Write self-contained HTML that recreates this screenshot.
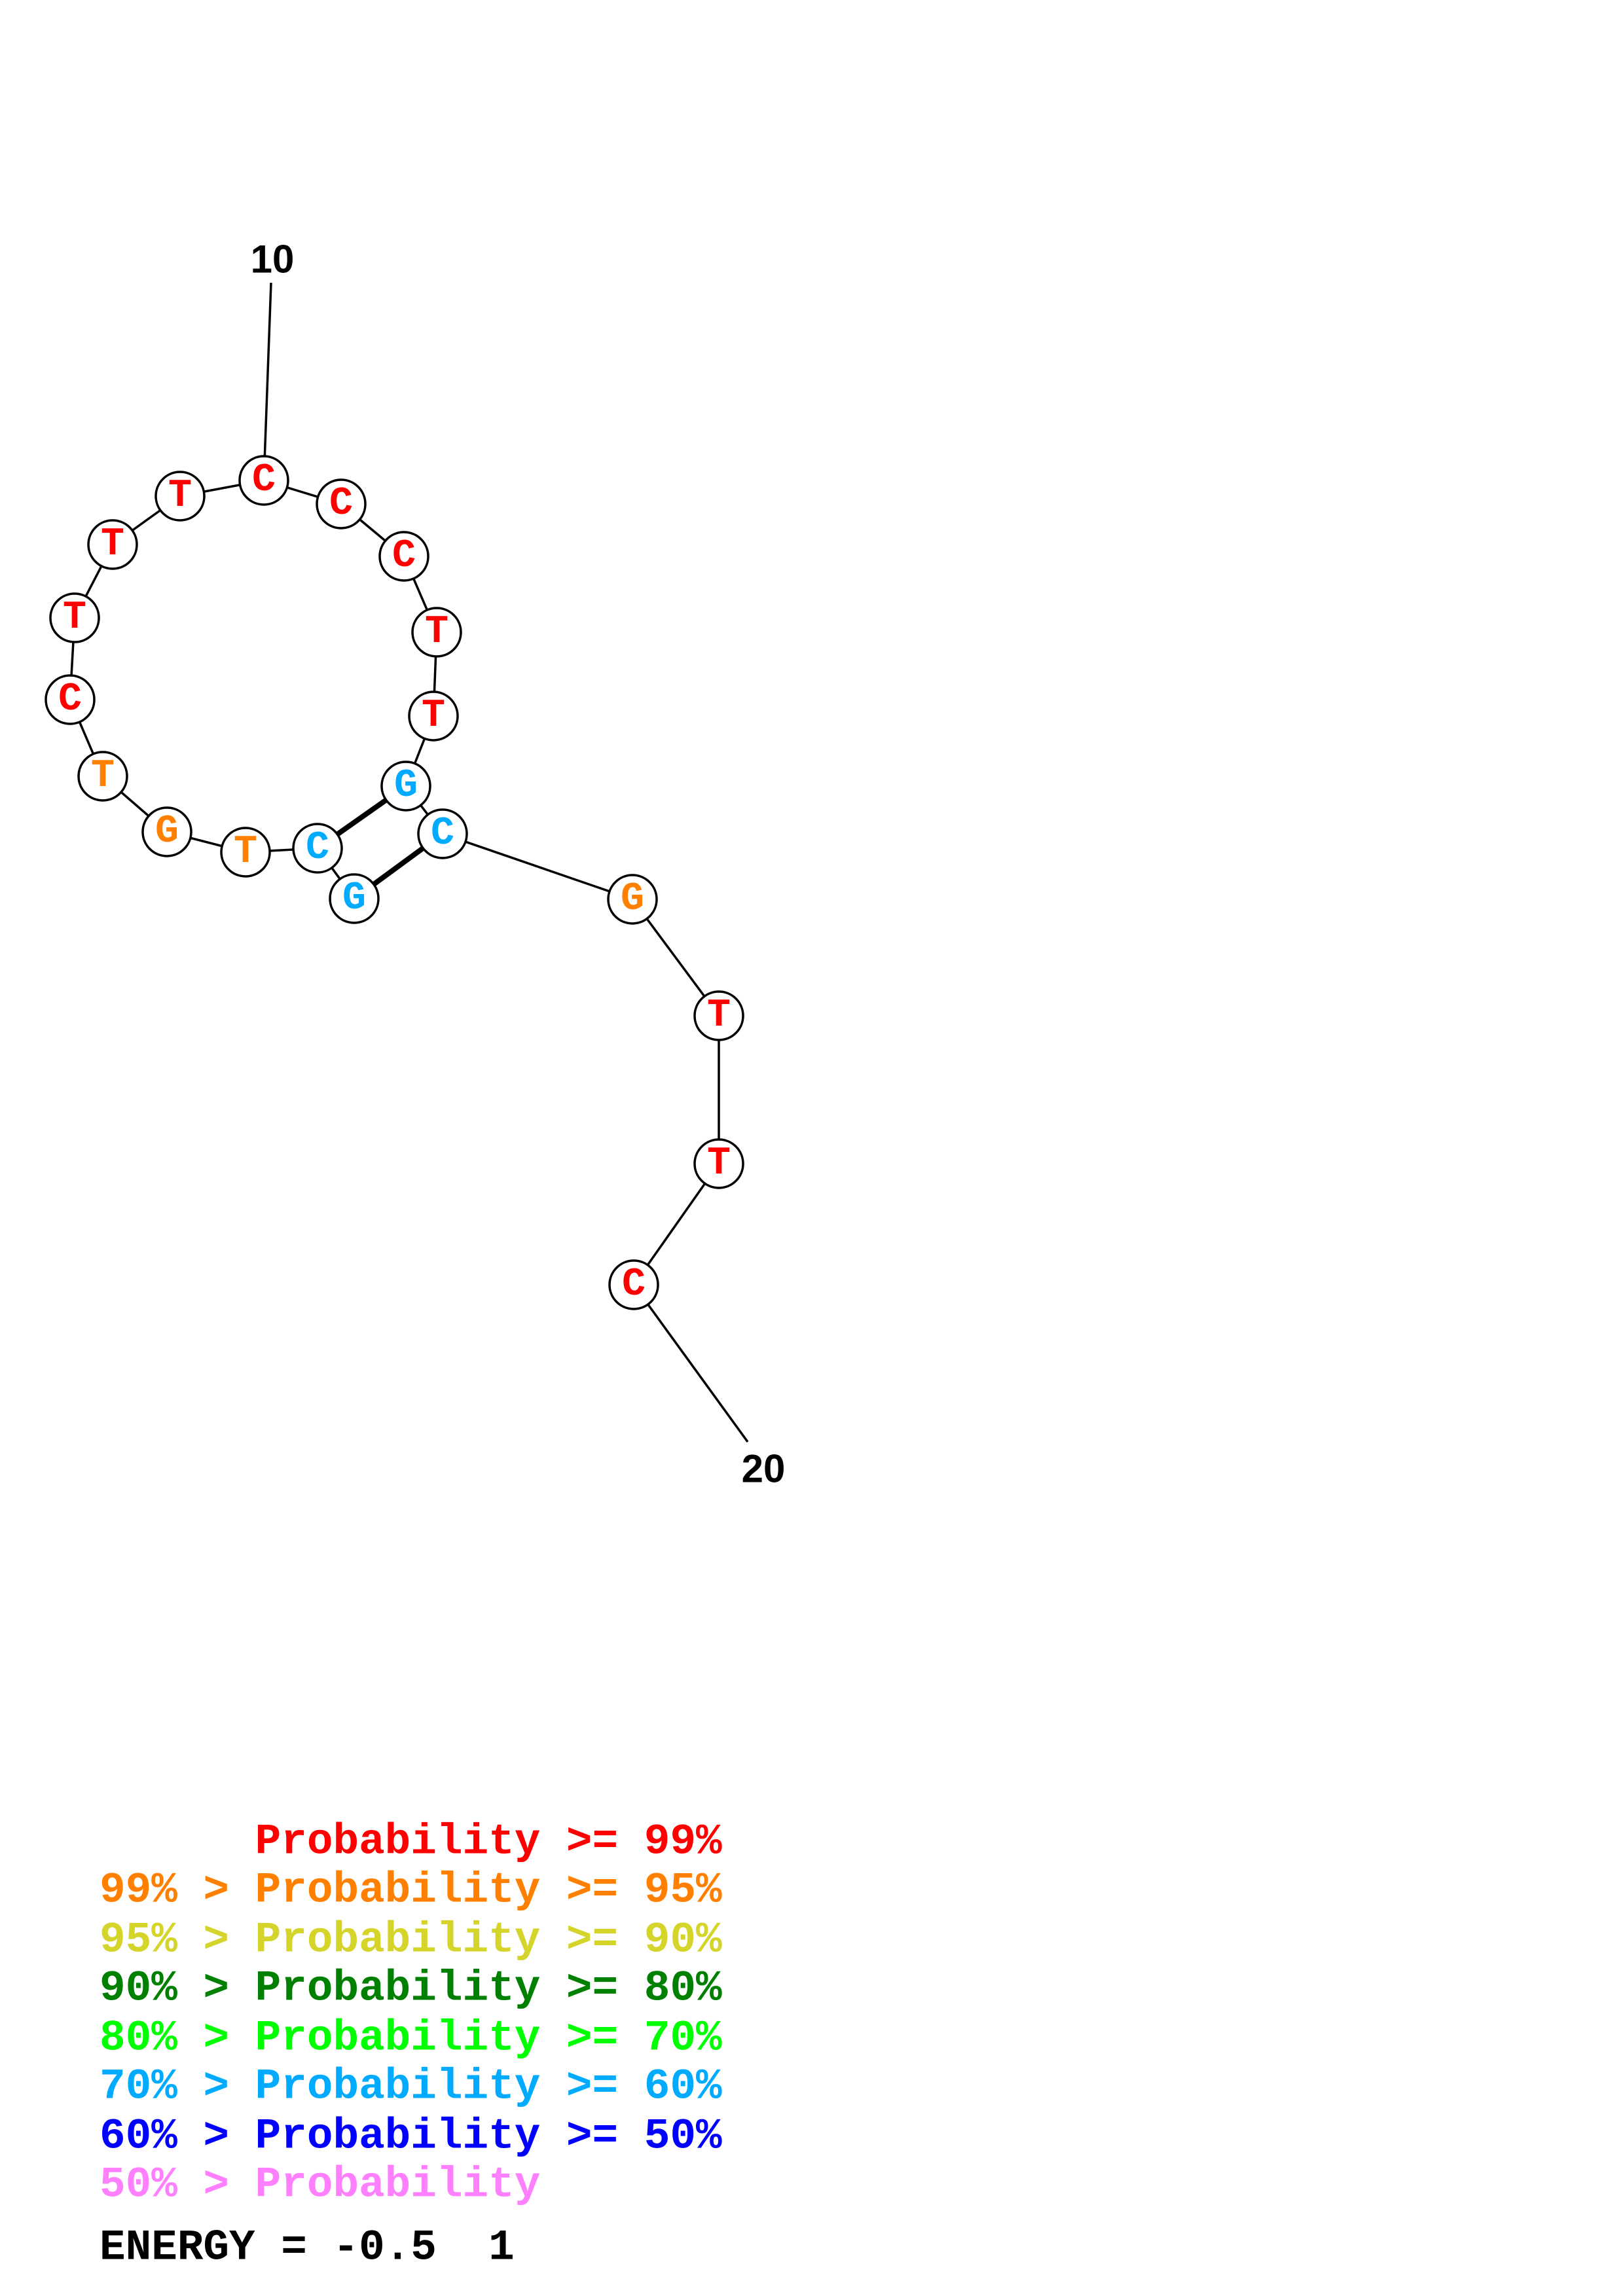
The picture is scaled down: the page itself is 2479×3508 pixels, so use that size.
<!DOCTYPE html>
<html><head><meta charset="utf-8"><style>
html,body{margin:0;padding:0;background:#fff}
svg{display:block}
.n{font-family:"Liberation Mono",monospace;font-weight:bold;font-size:60px;text-anchor:middle;dominant-baseline:central}
.lg{font-family:"Liberation Mono",monospace;font-weight:bold;font-size:66px;dominant-baseline:central}
.lb{font-family:"Liberation Sans",sans-serif;font-weight:bold;font-size:60px;text-anchor:middle;dominant-baseline:central}
</style></head><body>
<svg width="2479" height="3508" viewBox="0 0 2479 3508" xmlns="http://www.w3.org/2000/svg">
<g stroke="#000" stroke-width="3.5" fill="none">
<line x1="414" y1="432" x2="403" y2="734"/>
<polyline points="403,734 521,770 617,850 667,966 662,1094 620,1201 676,1274 966,1374 1098,1552 1098,1778 968,1963 1142,2203"/>
<polyline points="403,734 275,758 172,832 114,944 107,1069 157,1186 255,1271 375,1302 485,1296 541,1373"/>
<line x1="541" y1="1373" x2="676" y2="1274" stroke-width="8"/>
<line x1="485" y1="1296" x2="620" y2="1201" stroke-width="8"/>
</g>
<g stroke="#000" stroke-width="3.5" fill="#fff">
<circle cx="403" cy="734" r="37"/><circle cx="521" cy="770" r="37"/><circle cx="617" cy="850" r="37"/>
<circle cx="667" cy="966" r="37"/><circle cx="662" cy="1094" r="37"/><circle cx="620" cy="1201" r="37"/>
<circle cx="676" cy="1274" r="37"/><circle cx="966" cy="1374" r="37"/><circle cx="1098" cy="1552" r="37"/>
<circle cx="1098" cy="1778" r="37"/><circle cx="968" cy="1963" r="37"/>
<circle cx="541" cy="1373" r="37"/><circle cx="485" cy="1296" r="37"/><circle cx="375" cy="1302" r="37"/>
<circle cx="255" cy="1271" r="37"/><circle cx="157" cy="1186" r="37"/><circle cx="107" cy="1069" r="37"/>
<circle cx="114" cy="944" r="37"/><circle cx="172" cy="832" r="37"/><circle cx="275" cy="758" r="37"/>
</g>
<g class="n">
<text x="403" y="734" fill="#f00">C</text><text x="521" y="770" fill="#f00">C</text><text x="617" y="850" fill="#f00">C</text>
<text x="667" y="966" fill="#f00">T</text><text x="662" y="1094" fill="#f00">T</text><text x="620" y="1201" fill="#00aaff">G</text>
<text x="676" y="1274" fill="#00aaff">C</text><text x="966" y="1374" fill="#ff8000">G</text><text x="1098" y="1552" fill="#f00">T</text>
<text x="1098" y="1778" fill="#f00">T</text><text x="968" y="1963" fill="#f00">C</text>
<text x="541" y="1373" fill="#00aaff">G</text><text x="485" y="1296" fill="#00aaff">C</text><text x="375" y="1302" fill="#ff8000">T</text>
<text x="255" y="1271" fill="#ff8000">G</text><text x="157" y="1186" fill="#ff8000">T</text><text x="107" y="1069" fill="#f00">C</text>
<text x="114" y="944" fill="#f00">T</text><text x="172" y="832" fill="#f00">T</text><text x="275" y="758" fill="#f00">T</text>
</g>
<text class="lb" x="416" y="396">10</text>
<text class="lb" x="1166" y="2244">20</text>
<g class="lg">
<text x="152" y="2814" fill="#f00">&#160;&#160;&#160;&#160;&#160;&#160;Probability&#160;&gt;=&#160;99%</text>
<text x="152" y="2888" fill="#ff8000">99%&#160;&gt;&#160;Probability&#160;&gt;=&#160;95%</text>
<text x="152" y="2964" fill="#d4d42a">95%&#160;&gt;&#160;Probability&#160;&gt;=&#160;90%</text>
<text x="152" y="3038" fill="#008000">90%&#160;&gt;&#160;Probability&#160;&gt;=&#160;80%</text>
<text x="152" y="3114" fill="#00ff00">80%&#160;&gt;&#160;Probability&#160;&gt;=&#160;70%</text>
<text x="152" y="3188" fill="#00aaff">70%&#160;&gt;&#160;Probability&#160;&gt;=&#160;60%</text>
<text x="152" y="3264" fill="#0000ff">60%&#160;&gt;&#160;Probability&#160;&gt;=&#160;50%</text>
<text x="152" y="3338" fill="#ff80ff">50%&#160;&gt;&#160;Probability</text>
<text x="152" y="3434" fill="#000">ENERGY&#160;=&#160;-0.5&#160;&#160;1</text>
</g>
</svg>
</body></html>
